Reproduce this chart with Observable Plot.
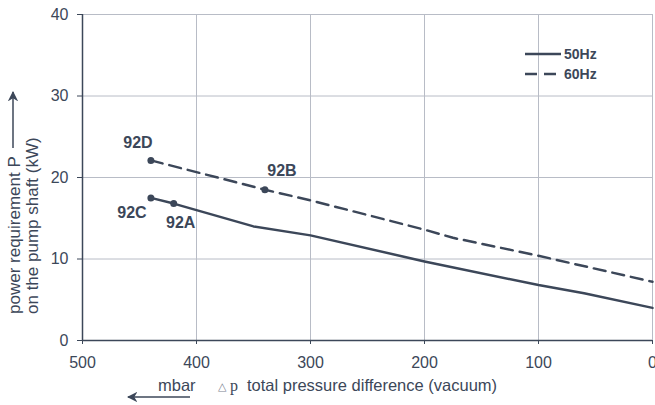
<!DOCTYPE html>
<html><head><meta charset="utf-8">
<script src="https://cdn.jsdelivr.net/npm/d3@7"></script>
<script src="https://cdn.jsdelivr.net/npm/@observablehq/plot@0.6"></script>
<style>body{margin:0;background:#fff;font-family:"Liberation Sans",Arial,sans-serif;}</style>
</head><body><div id="chart"></div>
<script>
const series50Label = "50Hz";
const series60Label = "60Hz";
const p50 = [440, 420, 350, 300, 200, 100, 60, 0];
const P50 = [17.5, 16.8, 14.0, 12.9, 9.7, 6.8, 5.8, 4.0];
const p60 = [440, 340, 300, 200, 175, 100, 0];
const P60 = [22.1, 18.5, 17.2, 13.6, 12.6, 10.4, 7.2];
const pointNames = ["92C", "92A", "92D", "92B"];
const pointP = [440, 420, 440, 340];
const pointPow = [17.5, 16.8, 22.1, 18.5];
const xTicks = [500, 400, 300, 200, 100, 0];
const yTicks = [0, 10, 20, 30, 40];

const C = "#3c4759";
const d50 = p50.map((x, i) => ({x, y: P50[i]}));
const d60 = p60.map((x, i) => ({x, y: P60[i]}));
const pts = pointNames.map((n, i) => ({n, x: pointP[i], y: pointPow[i]}));
const labelOffsets = {"92C": [-19, 15], "92A": [7, 19], "92D": [-13, -18], "92B": [17, -19]};

const svg = Plot.plot({
  width: 655, height: 405,
  marginLeft: 82, marginRight: 3, marginTop: 14, marginBottom: 65,
  style: {fontFamily: "Liberation Sans, Arial, sans-serif", fontSize: "16px", color: C, background: "#fff"},
  x: {domain: [500, 0], ticks: xTicks, label: null},
  y: {domain: [0, 40], ticks: yTicks, label: null},
  marks: [
    Plot.gridX(xTicks, {stroke: "#b8bcc6", strokeOpacity: 1, strokeWidth: 1}),
    Plot.gridY(yTicks, {stroke: "#b8bcc6", strokeOpacity: 1, strokeWidth: 1}),
    Plot.axisX({ticks: xTicks, tickSize: 4, tickPadding: 12, fontSize: 16, stroke: C}),
    Plot.axisY({ticks: yTicks, tickSize: 5, tickPadding: 9, fontSize: 16, stroke: C}),
    Plot.ruleY([0], {stroke: C, strokeWidth: 1.5}),
    Plot.ruleX([500], {stroke: C, strokeWidth: 1.5}),
    Plot.line(d50, {x: "x", y: "y", stroke: C, strokeWidth: 2.5}),
    Plot.line(d60, {x: "x", y: "y", stroke: C, strokeWidth: 2.5, strokeDasharray: "12,7"}),
    Plot.dot(pts, {x: "x", y: "y", r: 3.5, fill: C, stroke: "none"}),
    Plot.text(pts, {x: "x", y: "y", text: "n", fill: C, fontSize: 16, fontWeight: "bold"})
  ]
});
document.getElementById("chart").appendChild(svg);
const s = d3.select(svg);
s.selectAll("g[aria-label='text'] text").each(function(d, i) {
  const o = labelOffsets[pointNames[i]];
  const t = d3.select(this);
  const tr = t.attr("transform") || "";
  t.attr("transform", tr + ` translate(${o[0]},${o[1]})`);
});
const defs = s.append("defs");
defs.append("marker").attr("id", "ah").attr("viewBox", "0 0 10 10").attr("refX", 9).attr("refY", 5)
  .attr("markerWidth", 7).attr("markerHeight", 7).attr("orient", "auto-start-reverse")
  .append("path").attr("d", "M0,0 L10,5 L0,10 L3,5 Z").attr("fill", C);
// legend
const lg = s.append("g").attr("fill", C).attr("stroke", C);
lg.append("line").attr("x1", 525).attr("x2", 561).attr("y1", 54).attr("y2", 54).attr("stroke-width", 2.5);
lg.append("line").attr("x1", 525).attr("x2", 561).attr("y1", 74).attr("y2", 74).attr("stroke-width", 2.5).attr("stroke-dasharray", "12,7");
lg.append("text").attr("x", 564).attr("y", 59).attr("text-anchor", "start").attr("stroke", "none").attr("font-weight", "bold").attr("font-size", 14).text(series50Label);
lg.append("text").attr("x", 564).attr("y", 79).attr("text-anchor", "start").attr("stroke", "none").attr("font-weight", "bold").attr("font-size", 14).text(series60Label);
// y label
const yl = s.append("g").attr("fill", C).attr("font-size", 17).attr("text-anchor", "start");
yl.append("text").attr("transform", "translate(20,314) rotate(-90)").text("power requirement P");
yl.append("text").attr("transform", "translate(38,314) rotate(-90)").text("on the pump shaft (kW)");
s.append("line").attr("x1", 13).attr("x2", 13).attr("y1", 148).attr("y2", 92).attr("stroke", C).attr("stroke-width", 1.5).attr("marker-end", "url(#ah)");
// x label
const xl = s.append("g").attr("fill", C).attr("font-size", 16.5).attr("text-anchor", "start");
xl.append("text").attr("x", 158).attr("y", 391).text("mbar");
s.append("line").attr("x1", 190).attr("x2", 128).attr("y1", 397).attr("y2", 397).attr("stroke", C).attr("stroke-width", 1.5).attr("marker-end", "url(#ah)");
xl.append("text").attr("x", 218).attr("y", 390).attr("font-size", 11).attr("fill", "#7a8290").attr("font-family", "DejaVu Sans").text("△");
xl.append("text").attr("x", 230).attr("y", 391).attr("font-size", 16).attr("font-family", "Liberation Serif").text("p");
xl.append("text").attr("x", 247).attr("y", 391).text("total pressure difference (vacuum)");
</script></body></html>
